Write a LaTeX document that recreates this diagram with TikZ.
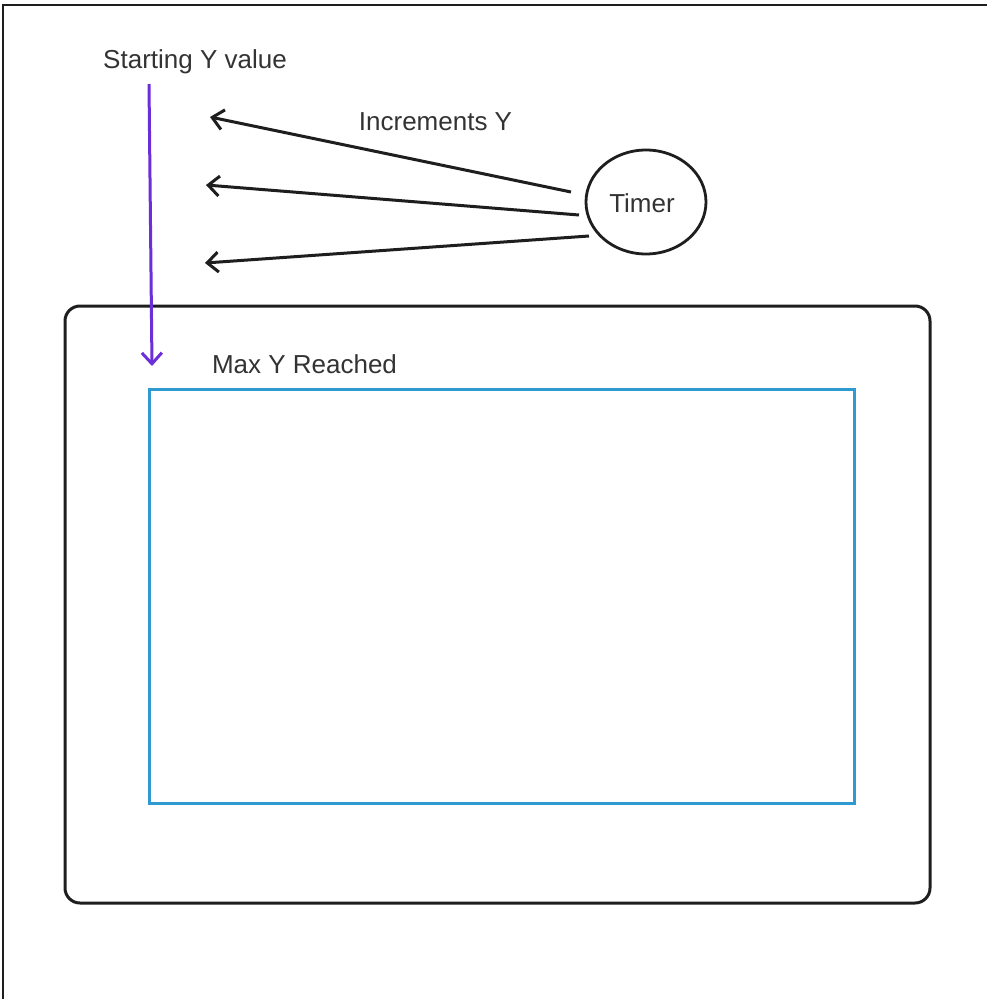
\documentclass[tikz,border=0pt]{standalone}
\usepackage{fontspec}
\setmainfont{Liberation Sans}
\usetikzlibrary{shapes.geometric,arrows.meta}
\definecolor{txt}{HTML}{333333}
\definecolor{ink}{HTML}{1E1E1E}
\definecolor{sky}{HTML}{2E9AD0}
\definecolor{violet}{HTML}{6A2FD8}
\tikzset{
  lbl/.style={text=txt,font=\fontsize{26}{30}\selectfont,inner sep=0pt},
  arr/.style={draw=ink,line width=3pt,-{Straight Barb[length=11pt,width=20pt,line width=3pt]}},
  varr/.style={draw=violet,line width=3pt,-{Straight Barb[length=11pt,width=20pt,line width=3pt]}},
}
\begin{document}
\begin{tikzpicture}[x=1pt,y=-1pt]
\useasboundingbox (0,0) rectangle (987,999);
\fill[white] (0,0) rectangle (987,999);
% frame
\draw[ink,line width=2.4pt] (3,999) -- (3,5) -- (987,5);
% outer rounded box
\node[draw=ink,line width=3pt,rounded corners=15pt,minimum width=865pt,minimum height=597pt,inner sep=0pt] (outer) at (497.5,604.5) {};
% inner blue box
\node[draw=sky,line width=3pt,minimum width=705pt,minimum height=414pt,inner sep=0pt] (screen) at (501.5,596) {};
% labels
\node[lbl] (start) at (195,62) {Starting Y value};
\node[lbl] (inc) at (435.5,122) {Increments Y};
\node[lbl] (maxy) at (304.5,364) {Max Y Reached};
% timer
\node[draw=ink,line width=2.8pt,ellipse,minimum width=120pt,minimum height=104pt,inner sep=0pt] (timer) at (646,202) {};
\node[lbl] (timertext) at (642,203) {Timer};
% arrow endpoints
\coordinate (s1) at (571,192);
\coordinate (t1) at (210,117);
\coordinate (s2) at (579,215);
\coordinate (t2) at (206,185);
\coordinate (s3) at (589,236);
\coordinate (t3) at (205,263);
\coordinate (vs) at (149,84);
\coordinate (vt) at (152,366);
\draw[arr] (s1) -- (t1);
\draw[arr] (s2) -- (t2);
\draw[arr] (s3) -- (t3);
\draw[varr] (vs) -- (vt);
\end{tikzpicture}
\end{document}
